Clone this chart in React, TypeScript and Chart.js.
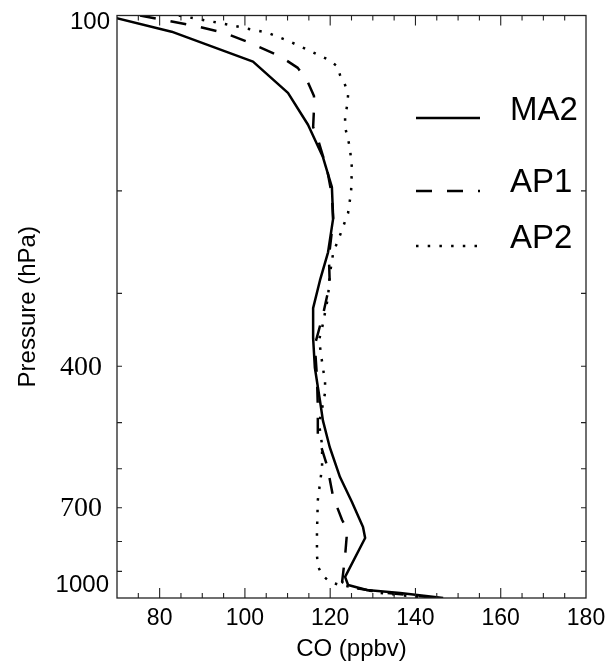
import { useEffect, useRef } from 'react';
import { Chart, registerables } from 'chart.js';

Chart.register(...registerables);

// ---- data ----
const seriesNames = ['MA2', 'AP1', 'AP2'];

const ma2Pressure = [100, 106.6, 120, 135.8, 154, 175, 197, 223, 255, 285, 318, 358, 402, 458, 496, 551, 620, 684, 755, 789, 920, 950, 969, 980, 1000];
const ma2CO = [67.3, 82.8, 101.9, 110.1, 114.8, 118.3, 120.4, 120.7, 119.5, 117.6, 116.0, 116.0, 116.4, 117.6, 118.3, 119.9, 122.3, 125.1, 127.7, 128.2, 123.5, 124.2, 128.6, 136.4, 146.5];

const ap1Pressure = [100, 101.5, 104.2, 107.2, 110.9, 112.8, 117.4, 123, 129.4, 137.5, 144.7, 155.4, 162.9, 184.2, 203.4, 224.5, 259.8, 289, 326.7, 368, 417.5, 470, 527, 593.6, 671, 734.6, 764, 847, 938.7, 957.5, 977, 1000];
const ap1CO = [75.4, 80.1, 88.3, 95.3, 100.5, 102.8, 108.2, 112.4, 114.6, 116.2, 116.2, 116.0, 117.1, 119.3, 120.4, 120.7, 119.7, 119.9, 118.3, 116.4, 116.9, 117.1, 117.1, 119.3, 120.7, 122.8, 124.0, 123.5, 122.8, 124.6, 131.7, 145];

const ap2Pressure = [100, 101.8, 103.4, 105.1, 107.0, 110.5, 114.6, 118.8, 122.1, 126.5, 131.6, 136.9, 142.4, 149.4, 155.4, 168.2, 182.7, 200.9, 218.3, 236.3, 255.7, 279, 304.2, 343.9, 360.6, 393.4, 425.7, 444.6, 502.7, 546.4, 596, 679, 773.4, 843.8, 881.4, 912.8, 938.7, 950, 957.5, 980, 1000];
const ap2CO = [84.5, 90.2, 95.3, 100, 105.2, 110.1, 114.8, 119.3, 121.6, 122.3, 123.5, 124.2, 124.0, 123.5, 123.5, 124.6, 125.1, 124.9, 124.2, 122.5, 120.7, 119.9, 119.5, 118.1, 117.4, 118.1, 118.8, 118.8, 117.4, 118.1, 118.1, 117.1, 116.9, 116.9, 117.1, 118.1, 119.9, 122.3, 125.1, 131.7, 143];

const xMin = 70;
const xMax = 180;
const xTickValues = [80, 100, 120, 140, 160, 180];
const xMinorStep = 5;
const yMin = 100;
const yMax = 1000;
const yTickValues = [100, 200, 300, 400, 500, 600, 700, 800, 900, 1000];
const yLabelValues = [100, 400, 700, 1000];

const xTitle = 'CO (ppbv)';
const yTitle = 'Pressure (hPa)';

const SANS = '"Liberation Sans", Arial, Helvetica, sans-serif';
const SERIF = '"Liberation Serif", "Times New Roman", serif';
const DASHES = [[], [16, 15], [2.5, 9.2]];

const decorPlugin = {
  id: 'decor',
  afterDraw(chart: any) {
    const ctx = chart.ctx as CanvasRenderingContext2D;
    const { left, right, top, bottom } = chart.chartArea;
    const xs = chart.scales.x;
    const ys = chart.scales.y;
    ctx.save();
    // frame
    ctx.strokeStyle = '#222';
    ctx.lineWidth = 1.3;
    ctx.setLineDash([]);
    ctx.strokeRect(left, top, right - left, bottom - top);
    // x ticks
    ctx.lineWidth = 1.1;
    for (let v = xMin + xMinorStep; v < xMax; v += xMinorStep) {
      const px = xs.getPixelForValue(v);
      const len = xTickValues.includes(v) ? 10 : 5;
      ctx.beginPath();
      ctx.moveTo(px, bottom);
      ctx.lineTo(px, bottom - len);
      ctx.moveTo(px, top);
      ctx.lineTo(px, top + len);
      ctx.stroke();
    }
    // y ticks
    for (const v of yTickValues) {
      if (v === yMin || v === yMax) continue;
      const py = ys.getPixelForValue(v);
      ctx.beginPath();
      ctx.moveTo(left, py);
      ctx.lineTo(left + 5, py);
      ctx.moveTo(right, py);
      ctx.lineTo(right - 5, py);
      ctx.stroke();
    }
    // x labels
    ctx.fillStyle = '#000';
    ctx.font = `23px ${SANS}`;
    ctx.textAlign = 'center';
    ctx.textBaseline = 'middle';
    for (const v of xTickValues) {
      ctx.fillText(String(v), xs.getPixelForValue(v), bottom + 21);
    }
    // y labels
    ctx.textAlign = 'right';
    for (const v of yLabelValues) {
      const py = ys.getPixelForValue(v);
      if (v === yMin) {
        ctx.font = `24px ${SANS}`;
        ctx.fillText(String(v), left - 7, py + 7);
      } else if (v === yMax) {
        ctx.font = `24px ${SANS}`;
        ctx.fillText(String(v), left - 8, py - 13);
      } else {
        ctx.font = `28px ${SERIF}`;
        ctx.fillText(String(v), left - 15, py + 1);
      }
    }
    // titles
    ctx.font = `24px ${SANS}`;
    ctx.textAlign = 'center';
    ctx.textBaseline = 'alphabetic';
    ctx.fillText(xTitle, (left + right) / 2, 656);
    ctx.save();
    ctx.translate(35, (top + bottom) / 2);
    ctx.rotate(-Math.PI / 2);
    ctx.fillText(yTitle, 0, 0);
    ctx.restore();
    // legend
    const legendY = [118, 191, 246];
    const textBase = [120, 192, 248];
    ctx.textAlign = 'left';
    ctx.font = `33px ${SANS}`;
    seriesNames.forEach((name, i) => {
      ctx.strokeStyle = '#000';
      ctx.lineWidth = 2.5;
      ctx.setLineDash(DASHES[i]);
      ctx.beginPath();
      ctx.moveTo(416, legendY[i]);
      ctx.lineTo(480, legendY[i]);
      ctx.stroke();
      ctx.setLineDash([]);
      ctx.fillText(name, 510, textBase[i]);
    });
    ctx.restore();
  },
};

export default function App() {
  const ref = useRef<HTMLCanvasElement | null>(null);
  useEffect(() => {
    document.body.style.margin = '0';
    document.body.style.overflow = 'hidden';
    const canvas = ref.current;
    if (!canvas) return;
    const series = [
      { p: ma2Pressure, c: ma2CO },
      { p: ap1Pressure, c: ap1CO },
      { p: ap2Pressure, c: ap2CO },
    ];
    const chart = new Chart(canvas, {
      type: 'scatter',
      data: {
        datasets: series.map((s, i) => ({
          label: seriesNames[i],
          data: s.p.map((p, k) => ({ x: s.c[k], y: p })),
          showLine: true,
          borderColor: '#000',
          backgroundColor: '#000',
          borderWidth: 2.5,
          borderDash: DASHES[i],
          borderJoinStyle: 'round',
          pointRadius: 0,
          fill: false,
          tension: 0,
          clip: 0,
        })),
      } as any,
      options: {
        responsive: false,
        animation: false,
        events: [],
        layout: { padding: { top: 15.5, right: 22, left: 0, bottom: 0 } },
        plugins: { legend: { display: false }, tooltip: { enabled: false } },
        scales: {
          x: {
            type: 'linear',
            min: xMin,
            max: xMax,
            ticks: { display: false },
            grid: { display: false },
            border: { display: false },
            afterFit: (s: any) => { s.height = 63; },
          },
          y: {
            type: 'logarithmic',
            reverse: true,
            min: yMin,
            max: yMax,
            ticks: { display: false },
            grid: { display: false },
            border: { display: false },
            afterFit: (s: any) => { s.width = 117; },
          },
        },
      } as any,
      plugins: [decorPlugin],
    });
    return () => chart.destroy();
  }, []);
  return <canvas ref={ref} width={608} height={661} style={{ display: 'block' }} />;
}
